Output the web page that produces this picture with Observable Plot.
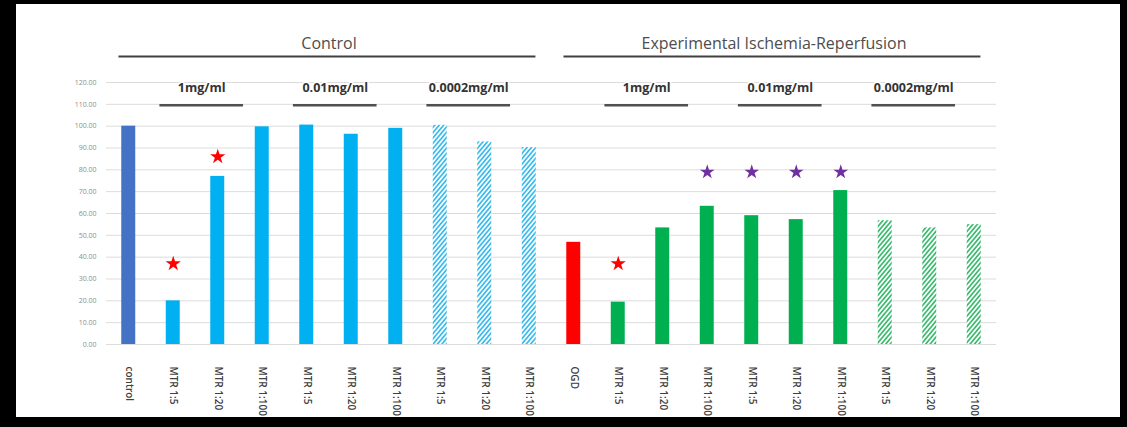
<!DOCTYPE html>
<html>
<head>
<meta charset="utf-8">
<script src="https://cdn.jsdelivr.net/npm/d3@7"></script>
<script src="https://cdn.jsdelivr.net/npm/@observablehq/plot@0.6"></script>
<style>
  html, body { margin: 0; padding: 0; background: #000; width: 1127px; height: 427px; overflow: hidden; }
  #panel { position: absolute; left: 16px; top: 4px; width: 1104px; height: 413px; background: #fff; }
</style>
</head>
<body>
<div id="panel"></div>
<script>
// ---- data ----
const categories = ["control","MTR 1:5","MTR 1:20","MTR 1:100","MTR 1:5","MTR 1:20","MTR 1:100","MTR 1:5","MTR 1:20","MTR 1:100",
                    "OGD","MTR 1:5","MTR 1:20","MTR 1:100","MTR 1:5","MTR 1:20","MTR 1:100","MTR 1:5","MTR 1:20","MTR 1:100"];
const values = [100, 20, 77, 99.7, 100.5, 96.3, 99, 100.4, 92.8, 90.2,
                46.8, 19.4, 53.4, 63.3, 59, 57.2, 70.5, 56.7, 53.4, 54.9];
const conditions = ["Control","Control","Control","Control","Control","Control","Control","Control","Control","Control",
  "Experimental Ischemia-Reperfusion","Experimental Ischemia-Reperfusion","Experimental Ischemia-Reperfusion","Experimental Ischemia-Reperfusion","Experimental Ischemia-Reperfusion",
  "Experimental Ischemia-Reperfusion","Experimental Ischemia-Reperfusion","Experimental Ischemia-Reperfusion","Experimental Ischemia-Reperfusion","Experimental Ischemia-Reperfusion"];
const doses = ["", "1mg/ml","1mg/ml","1mg/ml","0.01mg/ml","0.01mg/ml","0.01mg/ml","0.0002mg/ml","0.0002mg/ml","0.0002mg/ml",
               "", "1mg/ml","1mg/ml","1mg/ml","0.01mg/ml","0.01mg/ml","0.01mg/ml","0.0002mg/ml","0.0002mg/ml","0.0002mg/ml"];
const yTicks = [0,10,20,30,40,50,60,70,80,90,100,110,120];
// significance markers: bar index and marker height
const redStarBars = [1, 2, 11];
const redStarLevels = [37, 86, 37];
const purpleStarBars = [13, 14, 15, 16];
const purpleStarLevels = [79, 79, 79, 79];

// ---- derived tables ----
const bars = categories.map((c, i) => ({i, category: c, value: values[i], condition: conditions[i], dose: doses[i]}));
function spans(key) {
  const out = [];
  bars.forEach(b => {
    const k = b[key];
    if (!k) return;
    const last = out[out.length - 1];
    if (last && last.label === k && last.to === b.i - 1) last.to = b.i;
    else out.push({label: k, from: b.i, to: b.i});
  });
  return out;
}
const condSpans = spans("condition");
const doseSpans = spans("dose");
const redStars = redStarBars.map((b, k) => ({i: b, level: redStarLevels[k]}));
const purpleStars = purpleStarBars.map((b, k) => ({i: b, level: purpleStarLevels[k]}));

// ---- styles ----
function fillFor(d) {
  if (d.category === "control") return "#4472C4";
  if (d.category === "OGD") return "#FF0000";
  const ctrl = d.condition === "Control";
  if (d.dose === "0.0002mg/ml") return ctrl ? "url(#hatchBlue)" : "url(#hatchGreen)";
  return ctrl ? "#00B0F0" : "#00B050";
}

const defsMark = () => {
  const g = d3.create("svg:g");
  const defs = g.append("defs");
  [["hatchBlue", "#3cbcee"], ["hatchGreen", "#3dbc70"]].forEach(([id, col]) => {
    const p = defs.append("pattern").attr("id", id).attr("patternUnits", "userSpaceOnUse")
      .attr("width", 3.4).attr("height", 3.4).attr("patternTransform", "rotate(40)");
    p.append("rect").attr("width", 3.4).attr("height", 3.4).attr("fill", "#fff");
    p.append("rect").attr("width", 1.7).attr("height", 3.4).attr("fill", col);
  });
  return g.node();
};

const half = 0.157;
const chart = Plot.plot({
  width: 1104,
  height: 413,
  marginLeft: 90,
  marginRight: 124,
  marginTop: 78,
  marginBottom: 73,
  style: {fontFamily: "'Open Sans', sans-serif", background: "#fff", overflow: "visible"},
  x: {type: "linear", domain: [-0.5, 19.5], axis: null},
  y: {domain: [0, 120], axis: null},
  color: {type: "identity"},
  marks: [
    defsMark,
    Plot.gridY(yTicks, {stroke: "#dcdcdc", strokeOpacity: 1, strokeWidth: 1}),
    Plot.axisY(yTicks, {tickSize: 0, tickPadding: 10, fontSize: 7, color: "#8c8c8c", tickFormat: d => d.toFixed(2), label: null}),
    Plot.axisX(bars.map(b => b.i), {tickSize: 0, tickPadding: 22, tickRotate: 90, fontSize: 10, fontWeight: 600, color: "#404040",
      tickFormat: i => categories[i], label: null}),
    Plot.rectY(bars, {x1: d => d.i - half, x2: d => d.i + half, y: "value", fill: fillFor}),
    Plot.dot(redStars, {x: "i", y: "level", symbol: "star", r: 4.8, stroke: null, fill: "#FF0000"}),
    Plot.dot(purpleStars, {x: "i", y: "level", symbol: "star", r: 4.6, stroke: null, fill: "#7030A0"}),
    // condition headers
    Plot.text(condSpans, {x: d => (d.from + d.to) / 2, frameAnchor: "top", dy: -45, text: "label",
      fontSize: 16, fill: "#4d4d4d"}),
    Plot.ruleY(condSpans, {x1: d => d.from - 0.22, x2: d => d.to + 0.15, y: () => 120, dy: -26,
      stroke: "#404040", strokeWidth: 2.2}),
    // dose headers
    Plot.text(doseSpans, {x: d => (d.from + d.to) / 2 - 0.36, frameAnchor: "top", dy: 1, text: "label",
      fontSize: 12.5, fontWeight: "bold", fill: "#333", stroke: "#fff", strokeWidth: 3}),
    Plot.ruleY(doseSpans, {x1: d => d.from - 0.3, x2: d => d.to - 0.42, y: () => 110, dy: 1,
      stroke: "#505050", strokeWidth: 2.5})
  ]
});
document.getElementById("panel").appendChild(chart);
</script>
</body>
</html>
